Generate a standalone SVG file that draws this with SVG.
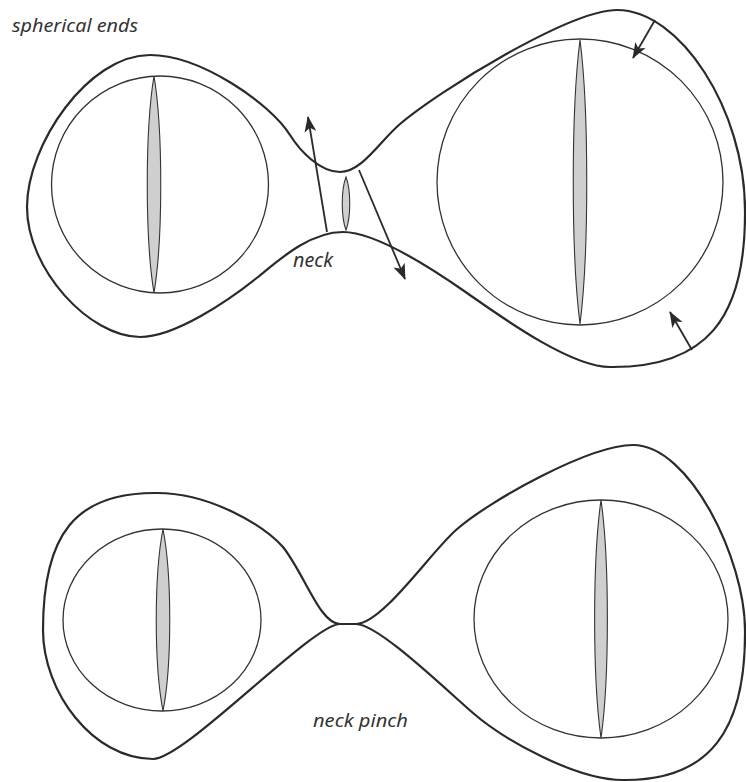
<svg xmlns="http://www.w3.org/2000/svg" width="746" height="782" viewBox="0 0 746 782">
<style>
.outer{fill:none;stroke:#2a2a2a;stroke-width:2.2;stroke-linejoin:round}
.inner{fill:none;stroke:#333;stroke-width:1.3}
.lens{fill:#cfcfcf;stroke:#333;stroke-width:1.1}
.conn{fill:none;stroke:#2a2a2a;stroke-width:1.8}
.lbl{font-family:"Noto Sans","DejaVu Sans",sans-serif;font-style:italic;fill:#333}
</style>
<defs>
<marker id="ah" viewBox="0 0 16 12" refX="15" refY="6" markerWidth="16" markerHeight="12" markerUnits="userSpaceOnUse" orient="auto">
<path d="M0,0 L16,6 L0,12 L4,6 z" fill="#2a2a2a"/>
</marker>
</defs>
<rect width="746" height="782" fill="#fff"/>
<text class="lbl" x="12" y="32" font-size="18.5" textLength="126" lengthAdjust="spacingAndGlyphs">spherical ends</text>

<g id="top-surface">
<path class="outer" d="M340,172 C362,172 380,141 400,124 C440,90 570,10 617,10 C680,10 745,110 745,210 C746,320 705,368 610,367 C570,367 500,316 467,293 C427,265 375,232 343,232 C310,232 280,259 258,277 C228,301 175,337 140,337 C90,337 27,270 27,207 C27,145 88,55 150,55 C200,55 270,103 290,135 C300,151 320,172 340,172 Z"/>
</g>
<g id="top-left-sphere">
<circle class="inner" cx="160" cy="184.5" r="108.5"/>
<path class="lens" d="M154,76 C163,130 163,239 154,293 C145,239 145,130 154,76 Z"/>
</g>
<g id="top-right-sphere">
<circle class="inner" cx="580" cy="182" r="143"/>
<path class="lens" d="M580,40 C589,110 589,254 580,324 C571,254 571,110 580,40 Z"/>
</g>
<g id="neck-lens">
<path class="lens" d="M346,177 C351,190 351,217 346,230 C341,217 341,190 346,177 Z"/>
</g>
<text class="lbl" x="293" y="267" font-size="19" textLength="40" lengthAdjust="spacingAndGlyphs">neck</text>

<g id="bottom-surface">
<path class="outer" d="M340,624 C320,624 305,575 283,547 C263,525 210,493 157,493 C75,492 43,535 43,630 C43,692 93,759 153,759 C185,759 312,624 340,624 Z M340,624 L356,624 M356,624 C378,624 443,687 473,713 C503,739 575,780 623,780 C710,781 746,730 745,630 C745,560 690,445 633,445 C590,445 490,500 456,530 C430,553 382,624 356,624 Z"/>
</g>
<g id="bottom-left-sphere">
<ellipse class="inner" cx="162" cy="620" rx="99" ry="91"/>
<path class="lens" d="M163,529 C172,575 172,665 163,711 C154,665 154,575 163,529 Z"/>
</g>
<g id="bottom-right-sphere">
<ellipse class="inner" cx="601" cy="619" rx="127" ry="119"/>
<path class="lens" d="M601,500 C609.5,560 609.5,678 601,738 C592.5,678 592.5,560 601,500 Z"/>
</g>
<text class="lbl" x="313" y="727" font-size="18.5" textLength="95" lengthAdjust="spacingAndGlyphs">neck pinch</text>

<g id="connectors">
<line class="conn" x1="327" y1="232" x2="308" y2="117" marker-end="url(#ah)"/>
<line class="conn" x1="359" y1="170" x2="405" y2="279" marker-end="url(#ah)"/>
<line class="conn" x1="655" y1="20" x2="633" y2="58" marker-end="url(#ah)"/>
<line class="conn" x1="692" y1="350" x2="670" y2="312" marker-end="url(#ah)"/>
</g>
</svg>
